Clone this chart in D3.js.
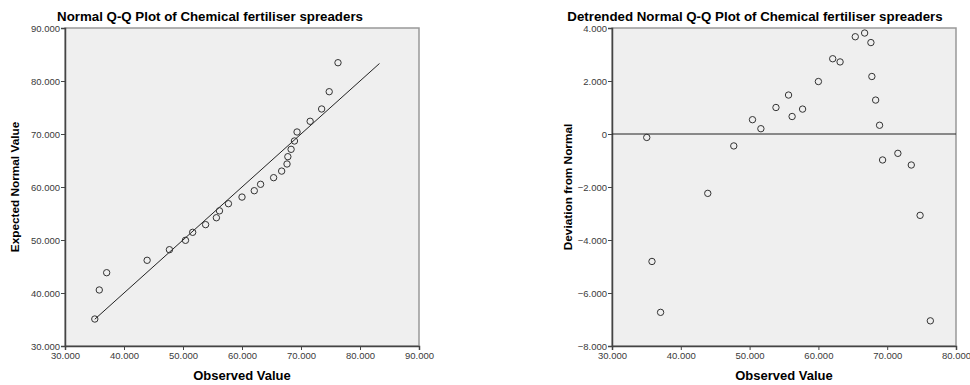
<!DOCTYPE html>
<html>
<head>
<meta charset="utf-8">
<script src="https://cdn.jsdelivr.net/npm/d3@7"></script>
<style>
  body { margin: 0; background: #fff; }
  svg { display: block; font-family: "Liberation Sans", Arial, sans-serif; }
  .tick text { fill: #3a3a3a; font-size: 9.5px; }
  .tick line, .domain { stroke: #444; }
</style>
</head>
<body>
<svg id="chart" width="970" height="385"></svg>
<script>
'use strict';

// Observed values (sorted), shared by both plots.
var observed = [35.05, 35.81, 37.06, 43.92, 47.70, 50.42, 51.64, 53.83, 55.66, 56.18,
    57.70, 60.00, 62.08, 63.15, 65.36, 66.72, 67.63, 67.77, 68.32, 68.89,
    69.33, 71.55, 73.50, 74.78, 76.27];

// Expected normal values, left plot.
var expected = [35.09, 40.57, 43.83, 46.17, 48.17, 49.94, 51.45, 52.90, 54.20, 55.50,
    56.85, 58.10, 59.30, 60.51, 61.76, 63.00, 64.34, 65.72, 67.11, 68.68,
    70.38, 72.40, 74.72, 77.98, 83.45];

// Deviation from normal, right plot.
var deviation = [-0.13, -4.81, -6.73, -2.24, -0.45, 0.54, 0.20, 1.00, 1.47, 0.66,
    0.94, 1.98, 2.84, 2.72, 3.67, 3.81, 3.45, 2.17, 1.28, 0.33,
    -0.98, -0.73, -1.17, -3.07, -7.05];

var leftXTicks = [30, 40, 50, 60, 70, 80, 90];
var leftYTicks = [30, 40, 50, 60, 70, 80, 90];
var rightXTicks = [30, 40, 50, 60, 70, 80];
var rightYTicks = [-8, -6, -4, -2, 0, 2, 4];
var refLine = [35.05, 83.3];

var fmt = function(v) { return v === 0 ? '0' : d3.format('.3f')(v); };

var svg = d3.select('#chart');

function drawPanel(opts) {
    var g = svg.append('g');
    var x = d3.scaleLinear().domain(opts.xDomain).range([opts.left, opts.right]);
    var y = d3.scaleLinear().domain(opts.yDomain).range([opts.bottom, opts.top]);

    g.append('rect')
        .attr('x', opts.left)
        .attr('y', opts.top)
        .attr('width', opts.right - opts.left)
        .attr('height', opts.bottom - opts.top)
        .attr('fill', '#efefef')
        .attr('stroke', '#999')
        .attr('stroke-width', 1.5);

    g.append('g')
        .attr('transform', 'translate(0,' + opts.bottom + ')')
        .call(d3.axisBottom(x).tickValues(opts.xTicks).tickFormat(fmt).tickSizeOuter(0).tickSize(4).tickPadding(2));

    g.append('g')
        .attr('transform', 'translate(' + opts.left + ',0)')
        .call(d3.axisLeft(y).tickValues(opts.yTicks).tickFormat(fmt).tickSizeOuter(0).tickSize(4).tickPadding(1));

    g.selectAll('.domain').attr('stroke-width', 1.5);

    // Reference line
    if (opts.line) {
        opts.line(g, x, y);
    }

    g.selectAll('circle.pt')
        .data(opts.points)
        .enter().append('circle')
        .attr('class', 'pt')
        .attr('cx', function(d) { return x(d[0]); })
        .attr('cy', function(d) { return y(d[1]); })
        .attr('r', 3.2)
        .attr('fill', 'none')
        .attr('stroke', '#333')
        .attr('stroke-width', 1);

    g.append('text')
        .attr('x', opts.titleX)
        .attr('y', 20.5)
        .attr('text-anchor', 'middle')
        .style('font-size', '13.3px')
        .style('font-weight', 'bold')
        .text(opts.title);

    g.append('text')
        .attr('x', (opts.left + opts.right) / 2)
        .attr('y', 380)
        .attr('text-anchor', 'middle')
        .style('font-size', '13px')
        .style('font-weight', 'bold')
        .text('Observed Value');

    g.append('text')
        .attr('transform', 'translate(' + opts.yTitleX + ',' + ((opts.top + opts.bottom) / 2) + ') rotate(-90)')
        .attr('text-anchor', 'middle')
        .style('font-size', '11.8px')
        .style('font-weight', 'bold')
        .text(opts.yTitle);
}

drawPanel({
    left: 65, right: 419, top: 28, bottom: 346,
    xDomain: [30, 90], yDomain: [30, 90],
    xTicks: leftXTicks, yTicks: leftYTicks,
    points: observed.map(function(v, i) { return [v, expected[i]]; }),
    title: 'Normal Q-Q Plot of Chemical fertiliser spreaders',
    titleX: 210,
    yTitle: 'Expected Normal Value',
    yTitleX: 19,
    line: function(g, x, y) {
        g.append('line')
            .attr('x1', x(refLine[0])).attr('y1', y(refLine[0]))
            .attr('x2', x(refLine[1])).attr('y2', y(refLine[1]))
            .attr('stroke', '#222')
            .attr('stroke-width', 1);
    }
});

drawPanel({
    left: 612, right: 956, top: 28, bottom: 346,
    xDomain: [30, 80], yDomain: [-8, 4],
    xTicks: rightXTicks, yTicks: rightYTicks,
    points: observed.map(function(v, i) { return [v, deviation[i]]; }),
    title: 'Detrended Normal Q-Q Plot of Chemical fertiliser spreaders',
    titleX: 755,
    yTitle: 'Deviation from Normal',
    yTitleX: 572,
    line: function(g, x, y) {
        g.append('line')
            .attr('x1', x(30)).attr('y1', y(0))
            .attr('x2', x(80)).attr('y2', y(0))
            .attr('stroke', '#222')
            .attr('stroke-width', 1);
    }
});
</script>
</body>
</html>
